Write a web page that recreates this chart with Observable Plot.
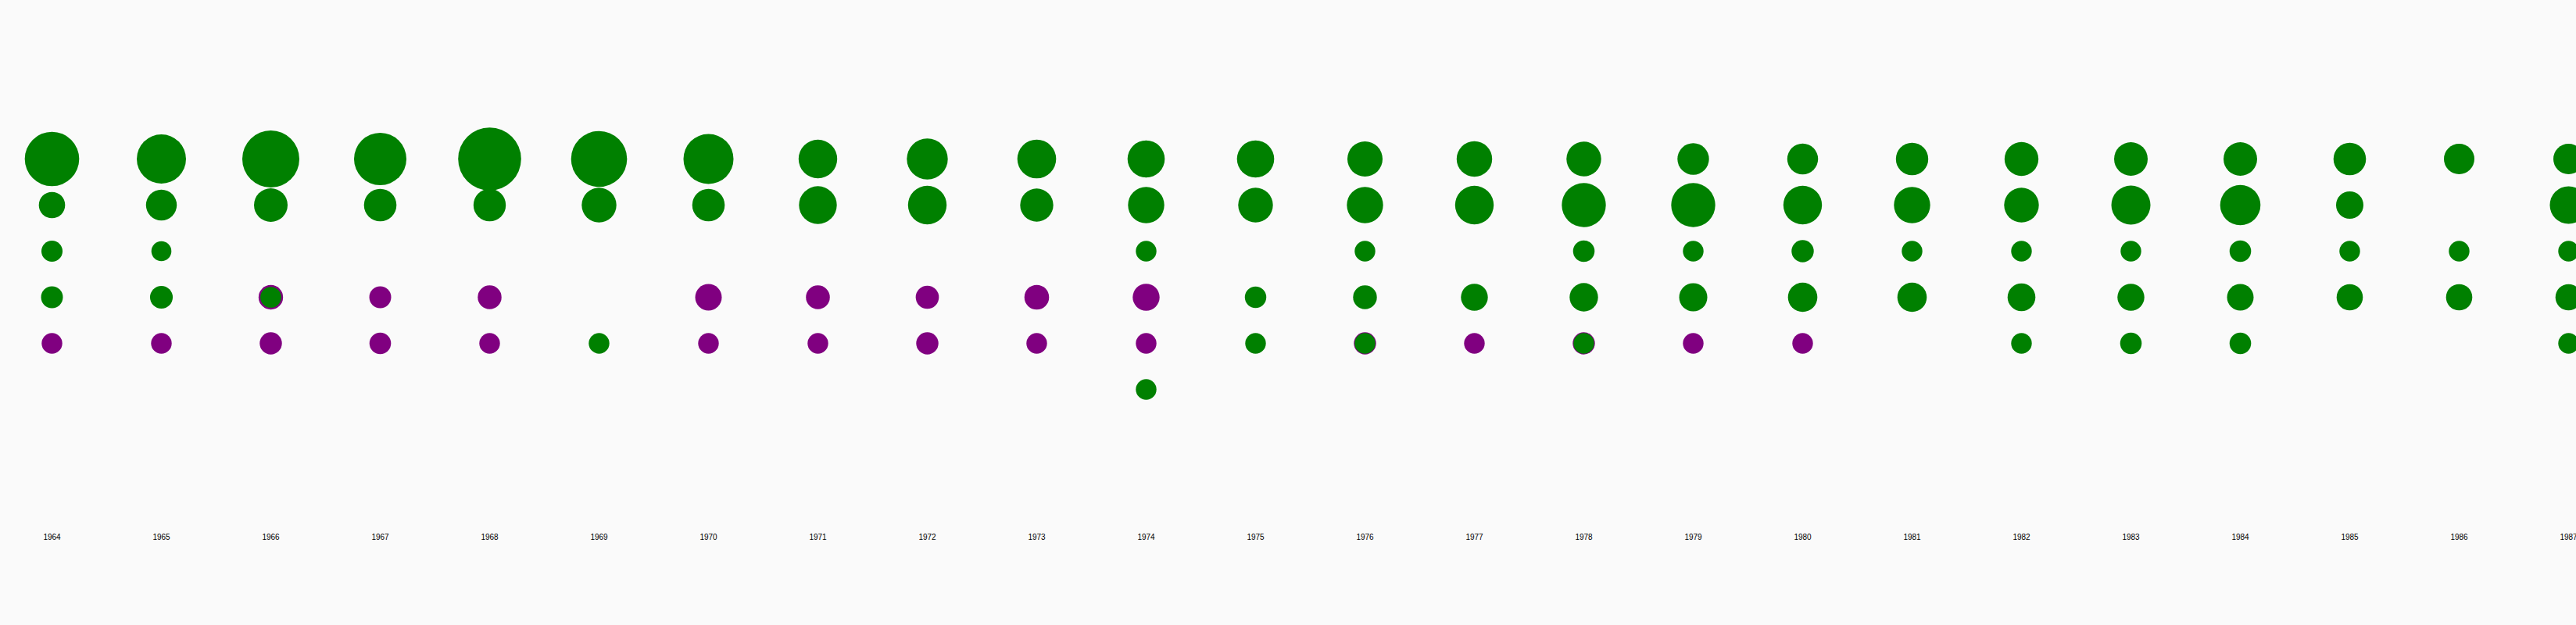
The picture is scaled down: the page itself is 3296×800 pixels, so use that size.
<!DOCTYPE html>
<html>
<head>
<meta charset="utf-8">
<script src="https://cdn.jsdelivr.net/npm/d3@7"></script>
<script src="https://cdn.jsdelivr.net/npm/@observablehq/plot@0.6"></script>
<style>
  html, body { margin: 0; padding: 0; background: #fafafa; overflow: hidden; }
</style>
</head>
<body>
<div id="chart"></div>
<script>
// Years (x categories / tick labels)
const years = [1964, 1965, 1966, 1967, 1968, 1969, 1970, 1971, 1972, 1973, 1974, 1975,
               1976, 1977, 1978, 1979, 1980, 1981, 1982, 1983, 1984, 1985, 1986, 1987];
// Rows (y categories)
const rows = [1, 2, 3, 4, 5, 6];

// Green series values, one array per row (null = no dot)
const greenRow1 = [6.95, 5.69, 7.65, 6.44, 9.32, 7.36, 5.88, 3.50, 3.94, 3.53, 3.25, 3.25,
                   2.91, 2.96, 2.83, 2.34, 2.23, 2.46, 2.70, 2.65, 2.65, 2.48, 2.18, 2.18];
const greenRow2 = [1.62, 2.23, 2.65, 2.48, 2.46, 2.83, 2.48, 3.36, 3.50, 2.58, 3.09, 2.83,
                   3.09, 3.50, 4.56, 4.56, 3.50, 3.09, 2.83, 3.59, 3.82, 1.76, null, 3.31];
const greenRow3 = [1.05, 0.94, null, null, null, null, null, null, null, null, 1.00, null,
                   1.00, null, 1.09, 1.00, 1.16, 1.00, 1.00, 1.00, 1.09, 1.00, 1.00, 1.00];
const greenRow4 = [1.12, 1.21, 1.02, null, null, null, null, null, null, null, null, 1.08,
                   1.33, 1.70, 1.90, 1.86, 2.03, 2.03, 1.82, 1.70, 1.66, 1.62, 1.62, 1.62];
const greenRow5 = [null, null, null, null, null, 1.00, null, null, null, null, null, 1.00,
                   1.00, null, 1.00, null, null, null, 1.00, 1.09, 1.09, null, null, 1.00];
const greenRow6 = [null, null, null, null, null, null, null, null, null, null, 1.00, null,
                   null, null, null, null, null, null, null, null, null, null, null, null];

// Purple series values, one array per row (null = no dot)
const purpleRow4 = [null, null, 1.41, 1.12, 1.33, null, 1.66, 1.34, 1.26, 1.43, 1.70, null,
                    null, null, null, null, null, null, null, null, null, null, null, null];
const purpleRow5 = [1.00, 1.00, 1.16, 1.09, 1.00, null, 1.00, 1.00, 1.16, 1.00, 1.00, null,
                    1.16, 1.00, 1.16, 1.00, 1.00, null, null, null, null, null, null, null];

function toRecords(rowArrays) {
  const out = [];
  rowArrays.forEach(([row, values]) => {
    values.forEach((v, i) => {
      if (v != null) out.push({year: years[i], row, value: v});
    });
  });
  return out;
}

const greenData = toRecords([[1, greenRow1], [2, greenRow2], [3, greenRow3],
                             [4, greenRow4], [5, greenRow5], [6, greenRow6]]);
const purpleData = toRecords([[4, purpleRow4], [5, purpleRow5]]);

const chart = Plot.plot({
  width: 3352,
  height: 694,
  marginLeft: 0,
  marginRight: 0,
  marginTop: 26,
  marginBottom: 20,
  style: {
    background: "#fafafa",
    fontFamily: "'Liberation Sans', Arial, sans-serif",
    fontSize: "10px",
    maxWidth: "none"
  },
  x: {type: "point", domain: years, padding: 0.471, tickSize: 0, tickFormat: d => String(d), label: null},
  y: {type: "point", domain: rows, padding: 2.9, axis: null},
  r: {type: "sqrt", domain: [0, 10], range: [0, 41.74]},
  marks: [
    Plot.dot(purpleData, {x: "year", y: "row", r: "value", fill: "purple"}),
    Plot.dot(greenData, {x: "year", y: "row", r: "value", fill: "green"})
  ]
});
document.getElementById("chart").append(chart);
</script>
</body>
</html>
